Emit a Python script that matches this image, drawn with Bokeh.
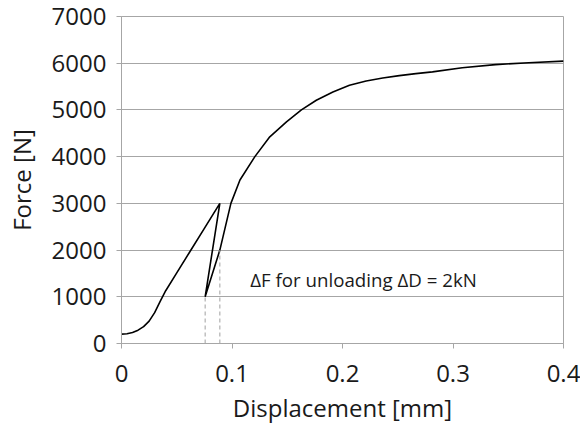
from bokeh.plotting import figure
from bokeh.models import FixedTicker, Range1d, Label
from bokeh.embed import file_html
from bokeh.resources import INLINE

# Load-displacement curve (with unloading/reloading loop)
displacement = [0, 0.005, 0.01, 0.015, 0.02, 0.025, 0.03, 0.035, 0.04,
                0.05, 0.062, 0.075, 0.089,
                0.0757,
                0.089, 0.0952, 0.099, 0.1072, 0.1207, 0.1342, 0.1493,
                0.1628, 0.1763, 0.1913, 0.2063, 0.2214, 0.2364, 0.2514,
                0.2664, 0.2814, 0.3084, 0.3384, 0.3685, 0.4]
force = [200, 210, 235, 285, 360, 480, 660, 900, 1130,
         1512, 1970, 2466, 3000,
         1000,
         2000, 2620, 3000, 3500, 4000, 4424, 4745,
         5000, 5207, 5385, 5527, 5620, 5683, 5734,
         5777, 5815, 5904, 5969, 6011, 6045]

# dashed markers for unloading window
dash_x = [0.0757, 0.089]
dash_top = [1000, 2000]

x_ticks = [0, 0.1, 0.2, 0.3, 0.4]
y_ticks = [0, 1000, 2000, 3000, 4000, 5000, 6000, 7000]
annotation = "ΔF for unloading ΔD = 2kN"

FONT = "Open Sans"
GRID = "#a6a6a6"
TXT = "#1a1a1a"

p = figure(width=580, height=426, output_backend="svg", toolbar_location=None,
           x_range=Range1d(0, 0.4), y_range=Range1d(0, 7000),
           min_border_left=121, min_border_right=17, min_border_top=16,
           min_border_bottom=82)

p.line(displacement, force, line_color="black", line_width=1.6)
for xx, tt in zip(dash_x, dash_top):
    p.line([xx, xx], [0, tt], line_color="#a0a0a0", line_width=1, line_dash="4 3")

p.xaxis.ticker = FixedTicker(ticks=x_ticks)
p.yaxis.ticker = FixedTicker(ticks=y_ticks)
p.xaxis.major_label_overrides = {0: "0", 0.1: "0.1", 0.2: "0.2", 0.3: "0.3", 0.4: "0.4"}
p.xaxis.axis_label = "Displacement [mm]"
p.yaxis.axis_label = "Force [N]"

for ax in (p.xaxis, p.yaxis):
    ax.axis_line_color = GRID
    ax.major_tick_line_color = GRID
    ax.major_tick_out = 5
    ax.major_tick_in = 0
    ax.minor_tick_line_color = None
    ax.major_label_text_font = FONT
    ax.major_label_text_font_size = "24px"
    ax.major_label_text_color = TXT
    ax.axis_label_text_font = FONT
    ax.axis_label_text_font_size = "24px"
    ax.axis_label_text_font_style = "normal"
    ax.axis_label_text_color = TXT

p.xaxis.major_label_standoff = 16
p.xaxis.axis_label_standoff = 6
p.yaxis.major_label_standoff = 10
p.yaxis.axis_label_standoff = 11

p.xgrid.grid_line_color = None
p.ygrid.grid_line_color = GRID
p.ygrid.grid_line_width = 1
p.outline_line_color = GRID
p.background_fill_color = "white"
p.border_fill_color = "white"

p.add_layout(Label(x=0.1165, y=1366, text=annotation, text_font=FONT,
                   text_font_size="18.7px", text_color=TXT, text_baseline="middle"))

open("out.html", "w").write(file_html(p, INLINE))
